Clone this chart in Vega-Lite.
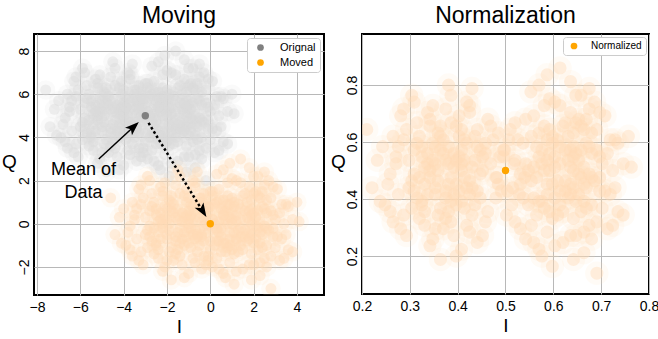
{
  "$schema": "https://vega.github.io/schema/vega-lite/v6.json",
  "padding": {"top": 4, "left": 0, "right": 0, "bottom": 0},
  "background": "white",
  "config": {
    "font": "Liberation Sans",
    "view": {"stroke": "black", "strokeWidth": 2},
    "axis": {"grid": true, "gridColor": "#b8b8b8", "gridWidth": 1, "gridOpacity": 1, "domain": false, "ticks": false, "labelFontSize": 14, "labelColor": "black", "titleFontSize": 19, "titleFontWeight": "normal", "titleColor": "black", "zindex": 1, "labelFlush": false, "labelPadding": 5, "titlePadding": 3},
    "axisY": {"labelAngle": -90, "labelPadding": 3},
    "title": {"fontSize": 23, "fontWeight": "normal", "color": "black", "offset": 6},
    "legend": {"fillColor": "white", "strokeColor": "#cccccc", "cornerRadius": 3, "padding": 4, "rowPadding": 3, "symbolType": "circle", "symbolSize": 45, "symbolStrokeWidth": 0, "labelFontSize": 11, "labelColor": "black", "labelOffset": 12, "zindex": 2},
    "concat": {"spacing": 4}
  },
  "resolve": {"scale": {"x": "independent", "y": "independent", "color": "independent"}, "legend": {"color": "independent"}},
  "datasets": {
    "pts": [
      {"oI":-4.5,"oQ":5.2,"mI":-1.5,"mQ":0.2,"nI":0.381,"nQ":0.524},
      {"oI":-5.1,"oQ":5.8,"mI":-2.1,"mQ":0.8,"nI":0.348,"nQ":0.596},
      {"oI":-3.7,"oQ":4.7,"mI":-0.7,"mQ":-0.3,"nI":0.425,"nQ":0.464},
      {"oI":-5.8,"oQ":4.4,"mI":-2.8,"mQ":-0.6,"nI":0.309,"nQ":0.428},
      {"oI":-4.2,"oQ":6.3,"mI":-1.2,"mQ":1.3,"nI":0.397,"nQ":0.656},
      {"oI":-4.8,"oQ":3.9,"mI":-1.8,"mQ":-1.1,"nI":0.364,"nQ":0.368},
      {"oI":-3.1,"oQ":5.5,"mI":-0.1,"mQ":0.5,"nI":0.458,"nQ":0.56},
      {"oI":-5.4,"oQ":5.1,"mI":-2.4,"mQ":0.1,"nI":0.331,"nQ":0.512},
      {"oI":-4.0,"oQ":4.1,"mI":-1.0,"mQ":-0.9,"nI":0.408,"nQ":0.392},
      {"oI":-6.2,"oQ":5.9,"mI":-3.2,"mQ":0.9,"nI":0.287,"nQ":0.608},
      {"oI":-4.4,"oQ":4.8,"mI":-1.4,"mQ":-0.2,"nI":0.386,"nQ":0.476},
      {"oI":-3.5,"oQ":6.0,"mI":-0.5,"mQ":1.0,"nI":0.436,"nQ":0.62},
      {"oI":-5.0,"oQ":4.5,"mI":-2.0,"mQ":-0.5,"nI":0.353,"nQ":0.44},
      {"oI":-4.6,"oQ":6.8,"mI":-1.6,"mQ":1.8,"nI":0.375,"nQ":0.716},
      {"oI":-5.6,"oQ":3.6,"mI":-2.6,"mQ":-1.4,"nI":0.32,"nQ":0.332},
      {"oI":-2.7,"oQ":4.2,"mI":0.3,"mQ":-0.8,"nI":0.48,"nQ":0.404},
      {"oI":-5.3,"oQ":5.5,"mI":-2.3,"mQ":0.5,"nI":0.337,"nQ":0.56},
      {"oI":-4.1,"oQ":5.4,"mI":-1.1,"mQ":0.4,"nI":0.403,"nQ":0.548},
      {"oI":-6.7,"oQ":4.9,"mI":-3.7,"mQ":-0.1,"nI":0.259,"nQ":0.488},
      {"oI":-3.8,"oQ":3.4,"mI":-0.8,"mQ":-1.6,"nI":0.419,"nQ":0.308},
      {"oI":-4.9,"oQ":6.1,"mI":-1.9,"mQ":1.1,"nI":0.359,"nQ":0.632},
      {"oI":-3.3,"oQ":4.9,"mI":-0.3,"mQ":-0.1,"nI":0.447,"nQ":0.488},
      {"oI":-6.0,"oQ":5.3,"mI":-3.0,"mQ":0.3,"nI":0.298,"nQ":0.536},
      {"oI":-4.3,"oQ":4.3,"mI":-1.3,"mQ":-0.7,"nI":0.392,"nQ":0.416},
      {"oI":-5.5,"oQ":4.1,"mI":-2.5,"mQ":-0.9,"nI":0.325,"nQ":0.392},
      {"oI":-3.9,"oQ":5.9,"mI":-0.9,"mQ":0.9,"nI":0.414,"nQ":0.608},
      {"oI":-4.7,"oQ":3.3,"mI":-1.7,"mQ":-1.7,"nI":0.37,"nQ":0.296},
      {"oI":-2.4,"oQ":5.6,"mI":0.6,"mQ":0.6,"nI":0.496,"nQ":0.572},
      {"oI":-6.4,"oQ":4.3,"mI":-3.4,"mQ":-0.7,"nI":0.276,"nQ":0.416},
      {"oI":-3.6,"oQ":5.1,"mI":-0.6,"mQ":0.1,"nI":0.43,"nQ":0.512},
      {"oI":-5.2,"oQ":6.5,"mI":-2.2,"mQ":1.5,"nI":0.342,"nQ":0.68},
      {"oI":-4.5,"oQ":3.8,"mI":-1.5,"mQ":-1.2,"nI":0.381,"nQ":0.356},
      {"oI":-5.7,"oQ":6.4,"mI":-2.7,"mQ":1.4,"nI":0.315,"nQ":0.668},
      {"oI":-3.0,"oQ":3.8,"mI":0.0,"mQ":-1.2,"nI":0.463,"nQ":0.356},
      {"oI":-4.8,"oQ":5.6,"mI":-1.8,"mQ":0.6,"nI":0.364,"nQ":0.572},
      {"oI":-3.7,"oQ":6.7,"mI":-0.7,"mQ":1.7,"nI":0.425,"nQ":0.704},
      {"oI":-7.0,"oQ":5.7,"mI":-4.0,"mQ":0.7,"nI":0.243,"nQ":0.584},
      {"oI":-4.2,"oQ":4.6,"mI":-1.2,"mQ":-0.4,"nI":0.397,"nQ":0.452},
      {"oI":-5.1,"oQ":3.0,"mI":-2.1,"mQ":-2.0,"nI":0.348,"nQ":0.26},
      {"oI":-3.4,"oQ":5.7,"mI":-0.4,"mQ":0.7,"nI":0.441,"nQ":0.584},
      {"oI":-5.9,"oQ":4.7,"mI":-2.9,"mQ":-0.3,"nI":0.304,"nQ":0.464},
      {"oI":-4.0,"oQ":5.0,"mI":-1.0,"mQ":0.0,"nI":0.408,"nQ":0.5},
      {"oI":-5.4,"oQ":3.8,"mI":-2.4,"mQ":-1.2,"nI":0.331,"nQ":0.356},
      {"oI":-2.6,"oQ":4.6,"mI":0.4,"mQ":-0.4,"nI":0.485,"nQ":0.452},
      {"oI":-5.0,"oQ":5.2,"mI":-2.0,"mQ":0.2,"nI":0.353,"nQ":0.524},
      {"oI":-4.4,"oQ":7.2,"mI":-1.4,"mQ":2.2,"nI":0.386,"nQ":0.764},
      {"oI":-6.3,"oQ":6.6,"mI":-3.3,"mQ":1.6,"nI":0.281,"nQ":0.692},
      {"oI":-3.2,"oQ":3.1,"mI":-0.2,"mQ":-1.9,"nI":0.452,"nQ":0.272},
      {"oI":-5.5,"oQ":5.7,"mI":-2.5,"mQ":0.7,"nI":0.325,"nQ":0.584},
      {"oI":-4.6,"oQ":4.2,"mI":-1.6,"mQ":-0.8,"nI":0.375,"nQ":0.404},
      {"oI":-2.0,"oQ":5.2,"mI":1.0,"mQ":0.2,"nI":0.518,"nQ":0.524},
      {"oI":-6.6,"oQ":3.5,"mI":-3.6,"mQ":-1.5,"nI":0.265,"nQ":0.32},
      {"oI":-4.1,"oQ":6.0,"mI":-1.1,"mQ":1.0,"nI":0.403,"nQ":0.62},
      {"oI":-4.9,"oQ":4.7,"mI":-1.9,"mQ":-0.3,"nI":0.359,"nQ":0.464},
      {"oI":-2.9,"oQ":6.3,"mI":0.1,"mQ":1.3,"nI":0.469,"nQ":0.656},
      {"oI":-6.1,"oQ":3.1,"mI":-3.1,"mQ":-1.9,"nI":0.293,"nQ":0.272},
      {"oI":-3.8,"oQ":4.5,"mI":-0.8,"mQ":-0.5,"nI":0.419,"nQ":0.44},
      {"oI":-4.7,"oQ":5.9,"mI":-1.7,"mQ":0.9,"nI":0.37,"nQ":0.608},
      {"oI":-3.5,"oQ":4.0,"mI":-0.5,"mQ":-1.0,"nI":0.436,"nQ":0.38},
      {"oI":-7.4,"oQ":4.5,"mI":-4.4,"mQ":-0.5,"nI":0.221,"nQ":0.44},
      {"oI":-4.3,"oQ":5.5,"mI":-1.3,"mQ":0.5,"nI":0.392,"nQ":0.56},
      {"oI":-5.3,"oQ":4.3,"mI":-2.3,"mQ":-0.7,"nI":0.337,"nQ":0.416},
      {"oI":-2.8,"oQ":5.9,"mI":0.2,"mQ":0.9,"nI":0.474,"nQ":0.608},
      {"oI":-5.8,"oQ":7.0,"mI":-2.8,"mQ":2.0,"nI":0.309,"nQ":0.74},
      {"oI":-4.0,"oQ":2.7,"mI":-1.0,"mQ":-2.3,"nI":0.408,"nQ":0.224},
      {"oI":-5.2,"oQ":5.0,"mI":-2.2,"mQ":0.0,"nI":0.342,"nQ":0.5},
      {"oI":-2.3,"oQ":3.7,"mI":0.7,"mQ":-1.3,"nI":0.502,"nQ":0.344},
      {"oI":-6.5,"oQ":5.4,"mI":-3.5,"mQ":0.4,"nI":0.271,"nQ":0.548},
      {"oI":-4.6,"oQ":5.3,"mI":-1.6,"mQ":0.3,"nI":0.375,"nQ":0.536},
      {"oI":-3.6,"oQ":7.4,"mI":-0.6,"mQ":2.4,"nI":0.43,"nQ":0.788},
      {"oI":-4.8,"oQ":2.4,"mI":-1.8,"mQ":-2.6,"nI":0.364,"nQ":0.188},
      {"oI":-1.6,"oQ":4.8,"mI":1.4,"mQ":-0.2,"nI":0.54,"nQ":0.476},
      {"oI":-7.6,"oQ":6.2,"mI":-4.6,"mQ":1.2,"nI":0.21,"nQ":0.644},
      {"oI":-3.9,"oQ":5.3,"mI":-0.9,"mQ":0.3,"nI":0.414,"nQ":0.536},
      {"oI":-5.6,"oQ":4.8,"mI":-2.6,"mQ":-0.2,"nI":0.32,"nQ":0.476},
      {"oI":-3.2,"oQ":5.4,"mI":-0.2,"mQ":0.4,"nI":0.452,"nQ":0.548},
      {"oI":-5.1,"oQ":6.9,"mI":-2.1,"mQ":1.9,"nI":0.348,"nQ":0.728},
      {"oI":-4.4,"oQ":3.5,"mI":-1.4,"mQ":-1.5,"nI":0.386,"nQ":0.32},
      {"oI":-6.9,"oQ":4.0,"mI":-3.9,"mQ":-1.0,"nI":0.248,"nQ":0.38},
      {"oI":-3.4,"oQ":4.4,"mI":-0.4,"mQ":-0.6,"nI":0.441,"nQ":0.428},
      {"oI":-1.2,"oQ":5.1,"mI":1.8,"mQ":0.1,"nI":0.636,"nQ":0.512},
      {"oI":-0.6,"oQ":4.5,"mI":2.4,"mQ":-0.5,"nI":0.669,"nQ":0.44},
      {"oI":-1.7,"oQ":5.9,"mI":1.3,"mQ":0.9,"nI":0.609,"nQ":0.608},
      {"oI":-2.0,"oQ":3.8,"mI":1.0,"mQ":-1.2,"nI":0.592,"nQ":0.356},
      {"oI":-0.1,"oQ":5.4,"mI":2.9,"mQ":0.4,"nI":0.697,"nQ":0.548},
      {"oI":-2.5,"oQ":4.8,"mI":0.5,"mQ":-0.2,"nI":0.565,"nQ":0.476},
      {"oI":-0.9,"oQ":6.5,"mI":2.1,"mQ":1.5,"nI":0.653,"nQ":0.68},
      {"oI":-1.3,"oQ":4.2,"mI":1.7,"mQ":-0.8,"nI":0.631,"nQ":0.404},
      {"oI":-2.3,"oQ":5.6,"mI":0.7,"mQ":0.6,"nI":0.576,"nQ":0.572},
      {"oI":-0.5,"oQ":3.4,"mI":2.5,"mQ":-1.6,"nI":0.675,"nQ":0.308},
      {"oI":-1.6,"oQ":5.2,"mI":1.4,"mQ":0.2,"nI":0.614,"nQ":0.524},
      {"oI":-0.4,"oQ":6.1,"mI":2.6,"mQ":1.1,"nI":0.68,"nQ":0.632},
      {"oI":-1.9,"oQ":4.6,"mI":1.1,"mQ":-0.4,"nI":0.598,"nQ":0.452},
      {"oI":0.4,"oQ":5.0,"mI":3.4,"mQ":0.0,"nI":0.724,"nQ":0.5},
      {"oI":-2.8,"oQ":4.0,"mI":0.2,"mQ":-1.0,"nI":0.548,"nQ":0.38},
      {"oI":-2.2,"oQ":6.9,"mI":0.8,"mQ":1.9,"nI":0.581,"nQ":0.728},
      {"oI":-0.9,"oQ":4.3,"mI":2.1,"mQ":-0.7,"nI":0.653,"nQ":0.416},
      {"oI":-1.0,"oQ":5.5,"mI":2.0,"mQ":0.5,"nI":0.647,"nQ":0.56},
      {"oI":-1.5,"oQ":2.9,"mI":1.5,"mQ":-2.1,"nI":0.62,"nQ":0.248},
      {"oI":-3.0,"oQ":5.8,"mI":0.0,"mQ":0.8,"nI":0.537,"nQ":0.596},
      {"oI":-0.3,"oQ":4.7,"mI":2.7,"mQ":-0.3,"nI":0.686,"nQ":0.464},
      {"oI":-1.5,"oQ":6.3,"mI":1.5,"mQ":1.3,"nI":0.62,"nQ":0.656},
      {"oI":-1.1,"oQ":3.6,"mI":1.9,"mQ":-1.4,"nI":0.642,"nQ":0.332},
      {"oI":-2.1,"oQ":5.3,"mI":0.9,"mQ":0.3,"nI":0.587,"nQ":0.536},
      {"oI":-2.3,"oQ":4.1,"mI":0.7,"mQ":-0.9,"nI":0.576,"nQ":0.392},
      {"oI":-0.5,"oQ":5.7,"mI":2.5,"mQ":0.7,"nI":0.675,"nQ":0.584},
      {"oI":-3.1,"oQ":4.9,"mI":-0.1,"mQ":-0.1,"nI":0.531,"nQ":0.488},
      {"oI":-0.8,"oQ":7.2,"mI":2.2,"mQ":2.2,"nI":0.658,"nQ":0.764},
      {"oI":-2.1,"oQ":3.2,"mI":0.9,"mQ":-1.8,"nI":0.587,"nQ":0.284},
      {"oI":-1.3,"oQ":6.0,"mI":1.7,"mQ":1.0,"nI":0.631,"nQ":0.62},
      {"oI":0.1,"oQ":4.4,"mI":3.1,"mQ":-0.6,"nI":0.708,"nQ":0.428},
      {"oI":-2.6,"oQ":5.1,"mI":0.4,"mQ":0.1,"nI":0.559,"nQ":0.512},
      {"oI":0.0,"oQ":3.9,"mI":3.0,"mQ":-1.1,"nI":0.702,"nQ":0.368},
      {"oI":-2.6,"oQ":6.6,"mI":0.4,"mQ":1.6,"nI":0.559,"nQ":0.692},
      {"oI":-0.8,"oQ":4.8,"mI":2.2,"mQ":-0.2,"nI":0.658,"nQ":0.476},
      {"oI":0.3,"oQ":5.9,"mI":3.3,"mQ":0.9,"nI":0.719,"nQ":0.608},
      {"oI":-0.7,"oQ":2.6,"mI":2.3,"mQ":-2.4,"nI":0.664,"nQ":0.212},
      {"oI":-1.8,"oQ":5.4,"mI":1.2,"mQ":0.4,"nI":0.603,"nQ":0.548},
      {"oI":-3.4,"oQ":4.5,"mI":-0.4,"mQ":-0.5,"nI":0.515,"nQ":0.44},
      {"oI":-0.7,"oQ":6.2,"mI":2.3,"mQ":1.2,"nI":0.664,"nQ":0.644},
      {"oI":-1.7,"oQ":3.7,"mI":1.3,"mQ":-1.3,"nI":0.609,"nQ":0.344},
      {"oI":-1.4,"oQ":5.6,"mI":1.6,"mQ":0.6,"nI":0.625,"nQ":0.572},
      {"oI":-2.6,"oQ":4.2,"mI":0.4,"mQ":-0.8,"nI":0.559,"nQ":0.404},
      {"oI":-1.8,"oQ":7.0,"mI":1.2,"mQ":2.0,"nI":0.603,"nQ":0.74},
      {"oI":-1.2,"oQ":4.6,"mI":1.8,"mQ":-0.4,"nI":0.636,"nQ":0.452},
      {"oI":0.8,"oQ":5.2,"mI":3.8,"mQ":0.2,"nI":0.746,"nQ":0.524},
      {"oI":0.2,"oQ":3.3,"mI":3.2,"mQ":-1.7,"nI":0.713,"nQ":0.296},
      {"oI":-3.3,"oQ":6.4,"mI":-0.3,"mQ":1.4,"nI":0.52,"nQ":0.668},
      {"oI":-0.7,"oQ":4.1,"mI":2.3,"mQ":-0.9,"nI":0.664,"nQ":0.392},
      {"oI":-2.2,"oQ":5.0,"mI":0.8,"mQ":0.0,"nI":0.581,"nQ":0.5},
      {"oI":-1.2,"oQ":7.6,"mI":1.8,"mQ":2.6,"nI":0.636,"nQ":0.812},
      {"oI":-2.9,"oQ":3.0,"mI":0.1,"mQ":-2.0,"nI":0.542,"nQ":0.26},
      {"oI":-0.4,"oQ":5.5,"mI":2.6,"mQ":0.5,"nI":0.68,"nQ":0.56},
      {"oI":-1.7,"oQ":4.7,"mI":1.3,"mQ":-0.3,"nI":0.609,"nQ":0.464},
      {"oI":-0.1,"oQ":6.7,"mI":2.9,"mQ":1.7,"nI":0.697,"nQ":0.704},
      {"oI":-3.3,"oQ":3.5,"mI":-0.3,"mQ":-1.5,"nI":0.52,"nQ":0.32},
      {"oI":-1.9,"oQ":5.8,"mI":1.1,"mQ":0.8,"nI":0.598,"nQ":0.596},
      {"oI":-0.5,"oQ":4.9,"mI":2.5,"mQ":-0.1,"nI":0.675,"nQ":0.488},
      {"oI":-2.4,"oQ":6.1,"mI":0.6,"mQ":1.1,"nI":0.57,"nQ":0.632},
      {"oI":-1.9,"oQ":2.2,"mI":1.1,"mQ":-2.8,"nI":0.598,"nQ":0.164},
      {"oI":-0.9,"oQ":5.3,"mI":2.1,"mQ":0.3,"nI":0.653,"nQ":0.536},
      {"oI":-2.1,"oQ":4.3,"mI":0.9,"mQ":-0.7,"nI":0.587,"nQ":0.416},
      {"oI":-0.5,"oQ":6.8,"mI":2.5,"mQ":1.8,"nI":0.675,"nQ":0.716},
      {"oI":0.6,"oQ":3.8,"mI":3.6,"mQ":-1.2,"nI":0.735,"nQ":0.356},
      {"oI":-3.7,"oQ":5.6,"mI":-0.7,"mQ":0.6,"nI":0.498,"nQ":0.572},
      {"oI":-1.4,"oQ":4.4,"mI":1.6,"mQ":-0.6,"nI":0.625,"nQ":0.428},
      {"oI":-2.7,"oQ":7.3,"mI":0.3,"mQ":2.3,"nI":0.553,"nQ":0.776},
      {"oI":-1.0,"oQ":3.1,"mI":2.0,"mQ":-1.9,"nI":0.647,"nQ":0.272},
      {"oI":-1.1,"oQ":5.0,"mI":1.9,"mQ":0.0,"nI":0.642,"nQ":0.5},
      {"oI":1.0,"oQ":6.0,"mI":4.0,"mQ":1.0,"nI":0.757,"nQ":0.62},
      {"oI":-4.0,"oQ":4.8,"mI":-1.0,"mQ":-0.2,"nI":0.482,"nQ":0.476},
      {"oI":-1.6,"oQ":8.0,"mI":1.4,"mQ":3.0,"nI":0.614,"nQ":0.86},
      {"oI":-0.2,"oQ":2.0,"mI":2.8,"mQ":-3.0,"nI":0.691,"nQ":0.14},
      {"oI":-1.1,"oQ":5.7,"mI":1.9,"mQ":0.7,"nI":0.642,"nQ":0.584},
      {"oI":-1.6,"oQ":4.0,"mI":1.4,"mQ":-1.0,"nI":0.614,"nQ":0.38},
      {"oI":-1.0,"oQ":6.4,"mI":2.0,"mQ":1.4,"nI":0.647,"nQ":0.668},
      {"oI":0.5,"oQ":4.5,"mI":3.5,"mQ":-0.5,"nI":0.729,"nQ":0.44},
      {"oI":-2.9,"oQ":5.2,"mI":0.1,"mQ":0.2,"nI":0.542,"nQ":0.524},
      {"oI":-2.4,"oQ":2.7,"mI":0.6,"mQ":-2.3,"nI":0.57,"nQ":0.224},
      {"oI":-2.0,"oQ":6.2,"mI":1.0,"mQ":1.2,"nI":0.592,"nQ":0.644},
      {"oI":-4.3,"oQ":5.1,"mI":-1.3,"mQ":0.1,"nI":0.392,"nQ":0.512},
      {"oI":-5.0,"oQ":5.7,"mI":-2.0,"mQ":0.7,"nI":0.353,"nQ":0.584},
      {"oI":-3.6,"oQ":4.5,"mI":-0.6,"mQ":-0.5,"nI":0.43,"nQ":0.44},
      {"oI":-5.7,"oQ":4.2,"mI":-2.7,"mQ":-0.8,"nI":0.315,"nQ":0.404},
      {"oI":-4.1,"oQ":6.6,"mI":-1.1,"mQ":1.6,"nI":0.403,"nQ":0.692},
      {"oI":-4.9,"oQ":3.7,"mI":-1.9,"mQ":-1.3,"nI":0.359,"nQ":0.344},
      {"oI":-2.9,"oQ":5.2,"mI":0.1,"mQ":0.2,"nI":0.469,"nQ":0.524},
      {"oI":-5.5,"oQ":5.4,"mI":-2.5,"mQ":0.4,"nI":0.325,"nQ":0.548},
      {"oI":-3.9,"oQ":3.9,"mI":-0.9,"mQ":-1.1,"nI":0.414,"nQ":0.368},
      {"oI":-6.1,"oQ":6.2,"mI":-3.1,"mQ":1.2,"nI":0.293,"nQ":0.644},
      {"oI":-4.5,"oQ":4.6,"mI":-1.5,"mQ":-0.4,"nI":0.381,"nQ":0.452},
      {"oI":-3.4,"oQ":6.2,"mI":-0.4,"mQ":1.2,"nI":0.441,"nQ":0.644},
      {"oI":-5.2,"oQ":4.8,"mI":-2.2,"mQ":-0.2,"nI":0.342,"nQ":0.476},
      {"oI":-4.4,"oQ":6.4,"mI":-1.4,"mQ":1.4,"nI":0.386,"nQ":0.668},
      {"oI":-5.9,"oQ":3.9,"mI":-2.9,"mQ":-1.1,"nI":0.304,"nQ":0.368},
      {"oI":-2.5,"oQ":4.4,"mI":0.5,"mQ":-0.6,"nI":0.491,"nQ":0.428},
      {"oI":-5.1,"oQ":5.3,"mI":-2.1,"mQ":0.3,"nI":0.348,"nQ":0.536},
      {"oI":-4.0,"oQ":5.6,"mI":-1.0,"mQ":0.6,"nI":0.408,"nQ":0.572},
      {"oI":-6.5,"oQ":5.2,"mI":-3.5,"mQ":0.2,"nI":0.271,"nQ":0.524},
      {"oI":-3.7,"oQ":3.2,"mI":-0.7,"mQ":-1.8,"nI":0.425,"nQ":0.284},
      {"oI":-4.8,"oQ":6.3,"mI":-1.8,"mQ":1.3,"nI":0.364,"nQ":0.656},
      {"oI":-3.2,"oQ":5.0,"mI":-0.2,"mQ":0.0,"nI":0.452,"nQ":0.5},
      {"oI":-5.8,"oQ":5.6,"mI":-2.8,"mQ":0.6,"nI":0.309,"nQ":0.572},
      {"oI":-4.2,"oQ":4.0,"mI":-1.2,"mQ":-1.0,"nI":0.397,"nQ":0.38},
      {"oI":-5.4,"oQ":3.4,"mI":-2.4,"mQ":-1.6,"nI":0.331,"nQ":0.308},
      {"oI":-3.8,"oQ":5.8,"mI":-0.8,"mQ":0.8,"nI":0.419,"nQ":0.596},
      {"oI":-4.6,"oQ":3.6,"mI":-1.6,"mQ":-1.4,"nI":0.375,"nQ":0.332},
      {"oI":-2.2,"oQ":5.9,"mI":0.8,"mQ":0.9,"nI":0.507,"nQ":0.608},
      {"oI":-6.8,"oQ":4.6,"mI":-3.8,"mQ":-0.4,"nI":0.254,"nQ":0.452},
      {"oI":-3.5,"oQ":5.3,"mI":-0.5,"mQ":0.3,"nI":0.436,"nQ":0.536},
      {"oI":-5.3,"oQ":6.7,"mI":-2.3,"mQ":1.7,"nI":0.337,"nQ":0.704},
      {"oI":-4.3,"oQ":3.1,"mI":-1.3,"mQ":-1.9,"nI":0.392,"nQ":0.272},
      {"oI":-5.6,"oQ":6.0,"mI":-2.6,"mQ":1.0,"nI":0.32,"nQ":0.62},
      {"oI":-3.1,"oQ":3.5,"mI":-0.1,"mQ":-1.5,"nI":0.458,"nQ":0.32},
      {"oI":-4.7,"oQ":5.5,"mI":-1.7,"mQ":0.5,"nI":0.37,"nQ":0.56},
      {"oI":-3.8,"oQ":7.0,"mI":-0.8,"mQ":2.0,"nI":0.419,"nQ":0.74},
      {"oI":-7.2,"oQ":5.3,"mI":-4.2,"mQ":0.3,"nI":0.232,"nQ":0.536},
      {"oI":-4.1,"oQ":4.4,"mI":-1.1,"mQ":-0.6,"nI":0.403,"nQ":0.428},
      {"oI":-5.2,"oQ":2.8,"mI":-2.2,"mQ":-2.2,"nI":0.342,"nQ":0.236},
      {"oI":-3.3,"oQ":5.6,"mI":-0.3,"mQ":0.6,"nI":0.447,"nQ":0.572},
      {"oI":-6.0,"oQ":4.5,"mI":-3.0,"mQ":-0.5,"nI":0.298,"nQ":0.44},
      {"oI":-3.9,"oQ":4.8,"mI":-0.9,"mQ":-0.2,"nI":0.414,"nQ":0.476},
      {"oI":-5.5,"oQ":4.0,"mI":-2.5,"mQ":-1.0,"nI":0.325,"nQ":0.38},
      {"oI":-2.7,"oQ":4.8,"mI":0.3,"mQ":-0.2,"nI":0.48,"nQ":0.476},
      {"oI":-4.9,"oQ":5.0,"mI":-1.9,"mQ":0.0,"nI":0.359,"nQ":0.5},
      {"oI":-4.5,"oQ":7.5,"mI":-1.5,"mQ":2.5,"nI":0.381,"nQ":0.8},
      {"oI":-6.2,"oQ":6.8,"mI":-3.2,"mQ":1.8,"nI":0.287,"nQ":0.716},
      {"oI":-3.4,"oQ":2.9,"mI":-0.4,"mQ":-2.1,"nI":0.441,"nQ":0.248},
      {"oI":-5.7,"oQ":5.8,"mI":-2.7,"mQ":0.8,"nI":0.315,"nQ":0.596},
      {"oI":-4.4,"oQ":4.1,"mI":-1.4,"mQ":-0.9,"nI":0.386,"nQ":0.392},
      {"oI":-1.8,"oQ":4.3,"mI":1.2,"mQ":-0.7,"nI":0.529,"nQ":0.416},
      {"oI":-6.7,"oQ":3.8,"mI":-3.7,"mQ":-1.2,"nI":0.259,"nQ":0.356},
      {"oI":-4.0,"oQ":6.2,"mI":-1.0,"mQ":1.2,"nI":0.408,"nQ":0.644},
      {"oI":-5.0,"oQ":4.3,"mI":-2.0,"mQ":-0.7,"nI":0.353,"nQ":0.416},
      {"oI":-3.0,"oQ":6.5,"mI":0.0,"mQ":1.5,"nI":0.463,"nQ":0.68},
      {"oI":-6.3,"oQ":3.3,"mI":-3.3,"mQ":-1.7,"nI":0.281,"nQ":0.296},
      {"oI":-3.7,"oQ":4.3,"mI":-0.7,"mQ":-0.7,"nI":0.425,"nQ":0.416},
      {"oI":-4.8,"oQ":6.0,"mI":-1.8,"mQ":1.0,"nI":0.364,"nQ":0.62},
      {"oI":-3.6,"oQ":3.7,"mI":-0.6,"mQ":-1.3,"nI":0.43,"nQ":0.344},
      {"oI":-7.1,"oQ":4.1,"mI":-4.1,"mQ":-0.9,"nI":0.238,"nQ":0.392},
      {"oI":-4.2,"oQ":5.3,"mI":-1.2,"mQ":0.3,"nI":0.397,"nQ":0.536},
      {"oI":-5.4,"oQ":4.6,"mI":-2.4,"mQ":-0.4,"nI":0.331,"nQ":0.452},
      {"oI":-2.6,"oQ":6.1,"mI":0.4,"mQ":1.1,"nI":0.485,"nQ":0.632},
      {"oI":-5.9,"oQ":7.2,"mI":-2.9,"mQ":2.2,"nI":0.304,"nQ":0.764},
      {"oI":-4.2,"oQ":2.5,"mI":-1.2,"mQ":-2.5,"nI":0.397,"nQ":0.2},
      {"oI":-5.3,"oQ":5.2,"mI":-2.3,"mQ":0.2,"nI":0.337,"nQ":0.524},
      {"oI":-2.1,"oQ":4.0,"mI":0.9,"mQ":-1.0,"nI":0.513,"nQ":0.38},
      {"oI":-6.4,"oQ":5.7,"mI":-3.4,"mQ":0.7,"nI":0.276,"nQ":0.584},
      {"oI":-4.5,"oQ":5.7,"mI":-1.5,"mQ":0.7,"nI":0.381,"nQ":0.584},
      {"oI":-3.7,"oQ":6.9,"mI":-0.7,"mQ":1.9,"nI":0.425,"nQ":0.728},
      {"oI":-5.0,"oQ":3.3,"mI":-2.0,"mQ":-1.7,"nI":0.353,"nQ":0.296},
      {"oI":-2.4,"oQ":5.4,"mI":0.6,"mQ":0.4,"nI":0.496,"nQ":0.548},
      {"oI":-6.6,"oQ":6.0,"mI":-3.6,"mQ":1.0,"nI":0.265,"nQ":0.62},
      {"oI":-4.0,"oQ":5.2,"mI":-1.0,"mQ":0.2,"nI":0.408,"nQ":0.524},
      {"oI":-5.8,"oQ":4.9,"mI":-2.8,"mQ":-0.1,"nI":0.309,"nQ":0.488},
      {"oI":-3.1,"oQ":5.8,"mI":-0.1,"mQ":0.8,"nI":0.458,"nQ":0.596},
      {"oI":-5.2,"oQ":6.3,"mI":-2.2,"mQ":1.3,"nI":0.342,"nQ":0.656},
      {"oI":-4.6,"oQ":4.4,"mI":-1.6,"mQ":-0.6,"nI":0.375,"nQ":0.428},
      {"oI":-6.2,"oQ":3.7,"mI":-3.2,"mQ":-1.3,"nI":0.287,"nQ":0.344},
      {"oI":-3.3,"oQ":4.2,"mI":-0.3,"mQ":-0.8,"nI":0.447,"nQ":0.404},
      {"oI":-1.3,"oQ":5.3,"mI":1.7,"mQ":0.3,"nI":0.631,"nQ":0.536},
      {"oI":-0.7,"oQ":4.6,"mI":2.3,"mQ":-0.4,"nI":0.664,"nQ":0.452},
      {"oI":-1.9,"oQ":6.0,"mI":1.1,"mQ":1.0,"nI":0.598,"nQ":0.62},
      {"oI":-2.2,"oQ":3.9,"mI":0.8,"mQ":-1.1,"nI":0.581,"nQ":0.368},
      {"oI":0.2,"oQ":5.5,"mI":3.2,"mQ":0.5,"nI":0.713,"nQ":0.56},
      {"oI":-2.7,"oQ":4.7,"mI":0.3,"mQ":-0.3,"nI":0.554,"nQ":0.464},
      {"oI":-1.2,"oQ":6.7,"mI":1.8,"mQ":1.7,"nI":0.636,"nQ":0.704},
      {"oI":-1.0,"oQ":4.1,"mI":2.0,"mQ":-0.9,"nI":0.647,"nQ":0.392},
      {"oI":-2.5,"oQ":5.7,"mI":0.5,"mQ":0.7,"nI":0.565,"nQ":0.584},
      {"oI":-0.2,"oQ":3.5,"mI":2.8,"mQ":-1.5,"nI":0.691,"nQ":0.32},
      {"oI":-1.8,"oQ":5.1,"mI":1.2,"mQ":0.1,"nI":0.603,"nQ":0.512},
      {"oI":-0.2,"oQ":6.2,"mI":2.8,"mQ":1.2,"nI":0.691,"nQ":0.644},
      {"oI":-1.6,"oQ":4.4,"mI":1.4,"mQ":-0.6,"nI":0.614,"nQ":0.428},
      {"oI":0.0,"oQ":5.2,"mI":3.0,"mQ":0.2,"nI":0.702,"nQ":0.524},
      {"oI":-2.5,"oQ":3.7,"mI":0.5,"mQ":-1.3,"nI":0.565,"nQ":0.344},
      {"oI":-2.0,"oQ":7.1,"mI":1.0,"mQ":2.1,"nI":0.592,"nQ":0.752},
      {"oI":-1.1,"oQ":4.5,"mI":1.9,"mQ":-0.5,"nI":0.642,"nQ":0.44},
      {"oI":-0.8,"oQ":5.6,"mI":2.2,"mQ":0.6,"nI":0.658,"nQ":0.572},
      {"oI":-1.2,"oQ":3.1,"mI":1.8,"mQ":-1.9,"nI":0.636,"nQ":0.272},
      {"oI":-3.2,"oQ":5.9,"mI":-0.2,"mQ":0.9,"nI":0.526,"nQ":0.608},
      {"oI":-0.1,"oQ":4.8,"mI":2.9,"mQ":-0.2,"nI":0.697,"nQ":0.476},
      {"oI":-1.4,"oQ":6.4,"mI":1.6,"mQ":1.4,"nI":0.625,"nQ":0.668},
      {"oI":-0.8,"oQ":3.8,"mI":2.2,"mQ":-1.2,"nI":0.658,"nQ":0.356},
      {"oI":-2.4,"oQ":5.4,"mI":0.6,"mQ":0.4,"nI":0.57,"nQ":0.548},
      {"oI":-3.0,"oQ":4.2,"mI":0.0,"mQ":-0.8,"nI":0.537,"nQ":0.404},
      {"oI":-0.6,"oQ":5.8,"mI":2.4,"mQ":0.8,"nI":0.669,"nQ":0.596},
      {"oI":-2.8,"oQ":5.0,"mI":0.2,"mQ":0.0,"nI":0.548,"nQ":0.5},
      {"oI":-0.5,"oQ":7.4,"mI":2.5,"mQ":2.4,"nI":0.675,"nQ":0.788},
      {"oI":-1.8,"oQ":2.8,"mI":1.2,"mQ":-2.2,"nI":0.603,"nQ":0.236},
      {"oI":-1.1,"oQ":6.1,"mI":1.9,"mQ":1.1,"nI":0.642,"nQ":0.632},
      {"oI":0.3,"oQ":4.3,"mI":3.3,"mQ":-0.7,"nI":0.719,"nQ":0.416},
      {"oI":-3.3,"oQ":5.3,"mI":-0.3,"mQ":0.3,"nI":0.52,"nQ":0.536},
      {"oI":-0.4,"oQ":4.0,"mI":2.6,"mQ":-1.0,"nI":0.68,"nQ":0.38},
      {"oI":-2.9,"oQ":6.5,"mI":0.1,"mQ":1.5,"nI":0.542,"nQ":0.68},
      {"oI":-0.9,"oQ":4.9,"mI":2.1,"mQ":-0.1,"nI":0.653,"nQ":0.488},
      {"oI":0.6,"oQ":5.8,"mI":3.6,"mQ":0.8,"nI":0.735,"nQ":0.596},
      {"oI":-1.1,"oQ":2.4,"mI":1.9,"mQ":-2.6,"nI":0.642,"nQ":0.188},
      {"oI":-2.0,"oQ":5.5,"mI":1.0,"mQ":0.5,"nI":0.592,"nQ":0.56},
      {"oI":-3.6,"oQ":4.4,"mI":-0.6,"mQ":-0.6,"nI":0.504,"nQ":0.428},
      {"oI":-0.8,"oQ":6.3,"mI":2.2,"mQ":1.3,"nI":0.658,"nQ":0.656},
      {"oI":-1.9,"oQ":3.6,"mI":1.1,"mQ":-1.4,"nI":0.598,"nQ":0.332},
      {"oI":-1.6,"oQ":5.7,"mI":1.4,"mQ":0.7,"nI":0.614,"nQ":0.584},
      {"oI":-2.4,"oQ":4.1,"mI":0.6,"mQ":-0.9,"nI":0.57,"nQ":0.392},
      {"oI":-1.6,"oQ":6.9,"mI":1.4,"mQ":1.9,"nI":0.614,"nQ":0.728},
      {"oI":-1.4,"oQ":4.7,"mI":1.6,"mQ":-0.3,"nI":0.625,"nQ":0.464},
      {"oI":1.1,"oQ":5.1,"mI":4.1,"mQ":0.1,"nI":0.763,"nQ":0.512},
      {"oI":0.4,"oQ":3.4,"mI":3.4,"mQ":-1.6,"nI":0.724,"nQ":0.308},
      {"oI":-3.5,"oQ":6.2,"mI":-0.5,"mQ":1.2,"nI":0.51,"nQ":0.644},
      {"oI":-0.6,"oQ":3.9,"mI":2.4,"mQ":-1.1,"nI":0.669,"nQ":0.368},
      {"oI":-2.3,"oQ":5.2,"mI":0.7,"mQ":0.2,"nI":0.576,"nQ":0.524},
      {"oI":-2.1,"oQ":7.8,"mI":0.9,"mQ":2.8,"nI":0.587,"nQ":0.836},
      {"oI":-2.6,"oQ":2.9,"mI":0.4,"mQ":-2.1,"nI":0.559,"nQ":0.248},
      {"oI":-0.2,"oQ":5.6,"mI":2.8,"mQ":0.6,"nI":0.691,"nQ":0.572},
      {"oI":-2.1,"oQ":4.6,"mI":0.9,"mQ":-0.4,"nI":0.587,"nQ":0.452},
      {"oI":0.1,"oQ":6.6,"mI":3.1,"mQ":1.6,"nI":0.708,"nQ":0.692},
      {"oI":-3.1,"oQ":3.3,"mI":-0.1,"mQ":-1.7,"nI":0.531,"nQ":0.296},
      {"oI":-2.1,"oQ":5.9,"mI":0.9,"mQ":0.9,"nI":0.587,"nQ":0.608},
      {"oI":-0.4,"oQ":4.8,"mI":2.6,"mQ":-0.2,"nI":0.68,"nQ":0.476},
      {"oI":-2.7,"oQ":6.0,"mI":0.3,"mQ":1.0,"nI":0.554,"nQ":0.62},
      {"oI":-2.3,"oQ":2.5,"mI":0.7,"mQ":-2.5,"nI":0.576,"nQ":0.2},
      {"oI":-1.1,"oQ":5.4,"mI":1.9,"mQ":0.4,"nI":0.642,"nQ":0.548},
      {"oI":-1.8,"oQ":4.2,"mI":1.2,"mQ":-0.8,"nI":0.603,"nQ":0.404},
      {"oI":-0.3,"oQ":7.0,"mI":2.7,"mQ":2.0,"nI":0.686,"nQ":0.74},
      {"oI":0.8,"oQ":3.7,"mI":3.8,"mQ":-1.3,"nI":0.746,"nQ":0.344},
      {"oI":-3.9,"oQ":5.4,"mI":-0.9,"mQ":0.4,"nI":0.488,"nQ":0.548},
      {"oI":-1.2,"oQ":4.3,"mI":1.8,"mQ":-0.7,"nI":0.636,"nQ":0.416},
      {"oI":-2.4,"oQ":7.5,"mI":0.6,"mQ":2.5,"nI":0.57,"nQ":0.8},
      {"oI":-0.7,"oQ":3.2,"mI":2.3,"mQ":-1.8,"nI":0.664,"nQ":0.284},
      {"oI":-0.7,"oQ":5.1,"mI":2.3,"mQ":0.1,"nI":0.664,"nQ":0.512},
      {"oI":0.5,"oQ":5.9,"mI":3.5,"mQ":0.9,"nI":0.729,"nQ":0.608},
      {"oI":-3.1,"oQ":4.6,"mI":-0.1,"mQ":-0.4,"nI":0.531,"nQ":0.452},
      {"oI":-1.0,"oQ":7.2,"mI":2.0,"mQ":2.2,"nI":0.647,"nQ":0.764},
      {"oI":-0.4,"oQ":3.0,"mI":2.6,"mQ":-2.0,"nI":0.68,"nQ":0.26},
      {"oI":-1.2,"oQ":5.6,"mI":1.8,"mQ":0.6,"nI":0.636,"nQ":0.572},
      {"oI":-1.5,"oQ":3.8,"mI":1.5,"mQ":-1.2,"nI":0.62,"nQ":0.356},
      {"oI":-0.6,"oQ":6.5,"mI":2.4,"mQ":1.5,"nI":0.669,"nQ":0.68},
      {"oI":-0.1,"oQ":4.4,"mI":2.9,"mQ":-0.6,"nI":0.697,"nQ":0.428},
      {"oI":-2.0,"oQ":5.0,"mI":1.0,"mQ":0.0,"nI":0.592,"nQ":0.5},
      {"oI":-2.7,"oQ":3.4,"mI":0.3,"mQ":-1.6,"nI":0.554,"nQ":0.308},
      {"oI":-2.2,"oQ":6.3,"mI":0.8,"mQ":1.3,"nI":0.581,"nQ":0.656}
    ]
  },
  "hconcat": [
    {
      "width": 290,
      "height": 261,
      "title": {"text": "Moving"},
      "layer": [
        {
          "data": {"name": "pts"},
          "mark": {"type": "point", "filled": true, "size": 380, "opacity": 0.12, "color": "#d9d9d9", "clip": true},
          "encoding": {
            "x": {"field": "oI", "type": "quantitative", "title": "I", "scale": {"domain": [-8.14, 5.25], "nice": false, "zero": false}, "axis": {"values": [-8, -6, -4, -2, 0, 2, 4]}},
            "y": {"field": "oQ", "type": "quantitative", "title": "Q", "scale": {"domain": [-3.3, 8.79], "nice": false, "zero": false}, "axis": {"values": [-2, 0, 2, 4, 6, 8], "titleAngle": 0, "titleX": -25, "titleY": 127, "titleAlign": "center", "titleBaseline": "middle"}}
          }
        },
        {
          "data": {"name": "pts"},
          "mark": {"type": "point", "filled": true, "size": 120, "opacity": 0.4, "color": "#d9d9d9", "clip": true},
          "encoding": {
            "x": {"field": "oI", "type": "quantitative", "title": "I"},
            "y": {"field": "oQ", "type": "quantitative", "title": "Q"}
          }
        },
        {
          "data": {"name": "pts"},
          "mark": {"type": "point", "filled": true, "size": 380, "opacity": 0.12, "color": "#ffdab5", "clip": true},
          "encoding": {
            "x": {"field": "mI", "type": "quantitative", "title": "I"},
            "y": {"field": "mQ", "type": "quantitative", "title": "Q"}
          }
        },
        {
          "data": {"name": "pts"},
          "mark": {"type": "point", "filled": true, "size": 120, "opacity": 0.4, "color": "#ffdab5", "clip": true},
          "encoding": {
            "x": {"field": "mI", "type": "quantitative", "title": "I"},
            "y": {"field": "mQ", "type": "quantitative", "title": "Q"}
          }
        },
        {
          "data": {"values": [{"x": -5.15, "y": 3.0, "x2": -3.4, "y2": 4.62}]},
          "mark": {"type": "rule", "color": "black", "strokeWidth": 1.5},
          "encoding": {
            "x": {"field": "x", "type": "quantitative", "title": "I"},
            "y": {"field": "y", "type": "quantitative", "title": "Q"},
            "x2": {"field": "x2"},
            "y2": {"field": "y2"}
          }
        },
        {
          "data": {"values": [{"x": -3.3, "y": 4.71}]},
          "mark": {"type": "point", "shape": "M0,0L-0.55,1.5L0,1.15L0.55,1.5Z", "filled": true, "color": "black", "opacity": 1, "size": 350, "angle": 47.4},
          "encoding": {
            "x": {"field": "x", "type": "quantitative", "title": "I"},
            "y": {"field": "y", "type": "quantitative", "title": "Q"}
          }
        },
        {
          "data": {"values": [{"x": -2.85, "y": 4.67, "x2": -0.3, "y2": 0.5}]},
          "mark": {"type": "rule", "color": "black", "strokeWidth": 2.5, "strokeDash": [2.5, 2.5]},
          "encoding": {
            "x": {"field": "x", "type": "quantitative", "title": "I"},
            "y": {"field": "y", "type": "quantitative", "title": "Q"},
            "x2": {"field": "x2"},
            "y2": {"field": "y2"}
          }
        },
        {
          "data": {"values": [{"x": -0.18, "y": 0.31}]},
          "mark": {"type": "point", "shape": "M0,0L-0.55,1.5L0,1.15L0.55,1.5Z", "filled": true, "color": "black", "opacity": 1, "size": 350, "angle": 148.4},
          "encoding": {
            "x": {"field": "x", "type": "quantitative", "title": "I"},
            "y": {"field": "y", "type": "quantitative", "title": "Q"}
          }
        },
        {
          "data": {"values": [{"x": -5.85, "y": 2.49, "label": "Mean of\nData"}]},
          "mark": {"type": "text", "fontSize": 18, "lineBreak": "\n", "lineHeight": 23, "align": "center", "baseline": "middle", "color": "black"},
          "encoding": {
            "x": {"field": "x", "type": "quantitative", "title": "I"},
            "y": {"field": "y", "type": "quantitative", "title": "Q"},
            "text": {"field": "label"}
          }
        },
        {
          "data": {"values": [{"I": -3, "Q": 5, "series": "Orignal"}, {"I": 0, "Q": 0, "series": "Moved"}]},
          "mark": {"type": "point", "filled": true, "size": 55, "opacity": 1},
          "encoding": {
            "x": {"field": "I", "type": "quantitative", "title": "I"},
            "y": {"field": "Q", "type": "quantitative", "title": "Q"},
            "color": {"field": "series", "type": "nominal", "scale": {"domain": ["Orignal", "Moved"], "range": ["#808080", "#ffa500"]}, "legend": {"title": null, "orient": "top-right", "offset": 4, "labelFont": "Liberation Sans", "symbolOffset": 4, "labelOffset": 14}}
          }
        }
      ]
    },
    {
      "width": 287,
      "height": 260,
      "title": {"text": "Normalization"},
      "layer": [
        {
          "data": {"name": "pts"},
          "mark": {"type": "point", "filled": true, "size": 550, "opacity": 0.12, "color": "#ffdab5", "clip": true},
          "encoding": {
            "x": {"field": "nI", "type": "quantitative", "title": "I", "scale": {"domain": [0.2, 0.8], "nice": false, "zero": false}, "axis": {"values": [0.2, 0.3, 0.4, 0.5, 0.6, 0.7, 0.8], "format": ".1f"}},
            "y": {"field": "nQ", "type": "quantitative", "title": "Q", "scale": {"domain": [0.067, 0.979], "nice": false, "zero": false}, "axis": {"values": [0.2, 0.4, 0.6, 0.8], "format": ".1f", "titleAngle": 0, "titleX": -24, "titleY": 127, "titleAlign": "center", "titleBaseline": "middle"}}
          }
        },
        {
          "data": {"name": "pts"},
          "mark": {"type": "point", "filled": true, "size": 170, "opacity": 0.4, "color": "#ffdab5", "clip": true},
          "encoding": {
            "x": {"field": "nI", "type": "quantitative", "title": "I"},
            "y": {"field": "nQ", "type": "quantitative", "title": "Q"}
          }
        },
        {
          "data": {"values": [{"I": 0.5, "Q": 0.5, "series": "Normalized"}]},
          "mark": {"type": "point", "filled": true, "size": 55, "opacity": 1},
          "encoding": {
            "x": {"field": "I", "type": "quantitative", "title": "I"},
            "y": {"field": "Q", "type": "quantitative", "title": "Q"},
            "color": {"field": "series", "type": "nominal", "scale": {"domain": ["Normalized"], "range": ["#ffa500"]}, "legend": {"title": null, "orient": "top-right", "offset": 3, "labelFont": "Liberation Sans", "labelFontSize": 10, "symbolOffset": 2, "labelOffset": 12}}
          }
        }
      ]
    }
  ]
}
